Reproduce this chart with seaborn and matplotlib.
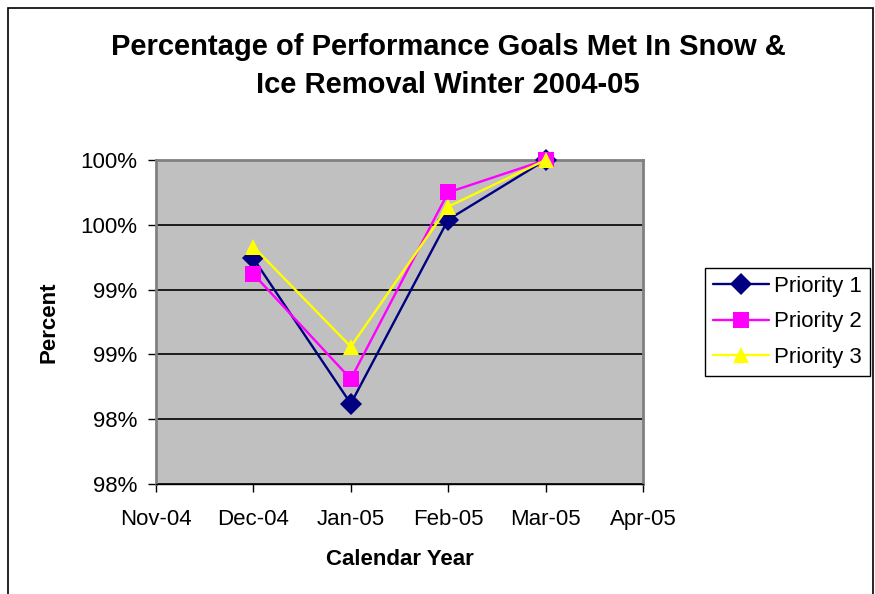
import matplotlib
matplotlib.use("Agg")
import matplotlib.pyplot as plt
import seaborn as sns
import pandas as pd
from matplotlib.patches import Rectangle

sns.set_style("white")
plt.rcParams['font.family'] = ['Liberation Sans', 'DejaVu Sans']
plt.rcParams['text.color'] = 'black'
plt.rcParams['axes.labelcolor'] = 'black'
plt.rcParams['xtick.color'] = 'black'
plt.rcParams['ytick.color'] = 'black'

month_labels = ['Nov-04', 'Dec-04', 'Jan-05', 'Feb-05', 'Mar-05', 'Apr-05']
point_months = ['Dec-04', 'Jan-05', 'Feb-05', 'Mar-05']
priority_1 = [99.24, 98.12, 99.54, 100.0]
priority_2 = [99.12, 98.31, 99.75, 100.0]
priority_3 = [99.33, 98.56, 99.64, 100.0]
series_names = ['Priority 1', 'Priority 2', 'Priority 3']
y_ticks = [97.5, 98.0, 98.5, 99.0, 99.5, 100.0]
y_tick_labels = ['98%', '98%', '99%', '99%', '100%', '100%']

rows = []
for name, vals in zip(series_names, [priority_1, priority_2, priority_3]):
    for m, v in zip(point_months, vals):
        rows.append({'Month': month_labels.index(m), 'Percent': v, 'Series': name})
df = pd.DataFrame(rows)

fig = plt.figure(figsize=(8.75, 5.94), dpi=100)
W, H = 875, 594
ax = fig.add_axes([156 / W, 1 - 484 / H, (643 - 156) / W, (484 - 160) / H])
ax.set_facecolor('#C0C0C0')

palette = {'Priority 1': '#000080', 'Priority 2': '#FF00FF', 'Priority 3': '#FFFF00'}
markers = {'Priority 1': 'D', 'Priority 2': 's', 'Priority 3': '^'}
sns.lineplot(data=df, x='Month', y='Percent', hue='Series', style='Series',
             palette=palette, markers=markers, dashes=False, linewidth=1.7,
             markersize=11, markeredgewidth=0, ax=ax, legend=True, zorder=3,
             clip_on=False)

ax.set_xlim(0, 5)
ax.set_ylim(97.5, 100.0)
ax.set_xticks(range(len(month_labels)))
ax.set_xticklabels(month_labels, fontsize=16)
ax.set_yticks(y_ticks)
ax.set_yticklabels(y_tick_labels, fontsize=16)
ax.yaxis.grid(True, color='black', linewidth=1.2)
ax.xaxis.grid(False)
ax.set_axisbelow(True)
ax.tick_params(axis='both', direction='out', length=6, width=1, color='black',
               bottom=True, left=True)
ax.tick_params(axis='x', pad=12)
ax.tick_params(axis='y', pad=7.5)
for s in ['bottom']:
    ax.spines[s].set_color('black')
    ax.spines[s].set_linewidth(1)
for s in ['top', 'right', 'left']:
    ax.spines[s].set_color('#808080')
    ax.spines[s].set_linewidth(2)

ax.set_xlabel('Calendar Year', fontsize=16, fontweight='bold', labelpad=14)
ax.set_ylabel('Percent', fontsize=16, fontweight='bold', labelpad=15)

fig.text(448 / W, 1 - 66 / H, 'Percentage of Performance Goals Met In Snow &\nIce Removal Winter 2004-05',
         ha='center', va='center', fontsize=21, fontweight='bold', linespacing=1.45)

handles, labels = ax.get_legend_handles_labels()
leg = ax.legend(handles, labels, loc='center left',
                bbox_to_anchor=(705 / W, 1 - 322 / H), bbox_transform=fig.transFigure,
                fontsize=16, frameon=True, fancybox=False, edgecolor='black',
                framealpha=1, borderpad=0.36, handlelength=2.5, labelspacing=0.65,
                handletextpad=0.23, borderaxespad=0)
leg.get_frame().set_linewidth(1)

fig.patches.append(Rectangle((8 / W, -0.01), (873 - 8) / W, 1 - 8 / H + 0.01,
                             transform=fig.transFigure, fill=False,
                             edgecolor='black', linewidth=1.2))

fig.savefig('out.png', dpi=100)
